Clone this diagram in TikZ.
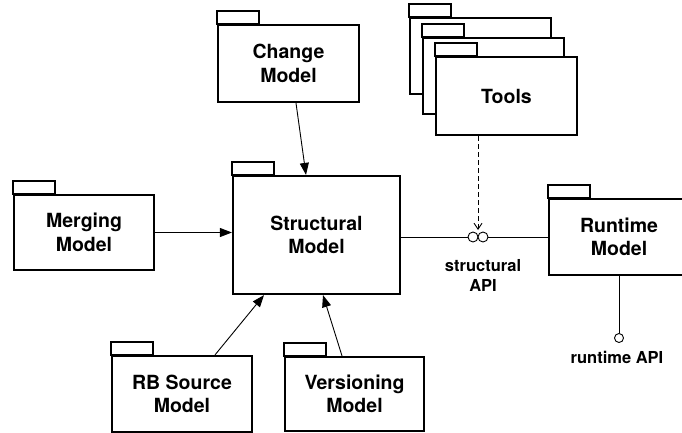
\documentclass[tikz,border=0pt]{standalone}
\usepackage{fontspec}
\setmainfont{TeX Gyre Heros}
\usetikzlibrary{arrows.meta}

\tikzset{
    pkg/.style={draw, line width=2.2pt, fill=white, align=center, inner sep=0pt,
        minimum width=141pt, minimum height=76pt,
        font=\fontsize{19.5}{23.5}\selectfont\bfseries},
    link/.style={line width=0.9pt, -{Triangle[length=12pt,width=9pt]}},
    apilabel/.style={align=center, font=\fontsize{16.5}{20}\selectfont\bfseries},
    socket/.style={draw, circle, line width=0.9pt, fill=white, inner sep=0pt, minimum size=10pt}
}

\newcommand{\pkgtab}[1]{\draw[line width=2.2pt, fill=white] (#1.north west) rectangle ++(42,-13);}

\begin{document}
\begin{tikzpicture}[x=1pt,y=-1pt]
            \useasboundingbox (0,0) rectangle (682,433);

            \node[pkg, minimum height=77pt] (change) at (288.5,63.5) {Change\\Model};
            \pkgtab{change}

            \node[pkg, minimum width=167pt, minimum height=118pt] (structural) at (316.5,235) {Structural\\Model};
            \pkgtab{structural}

            \node[pkg, minimum width=140pt, minimum height=75pt] (merging) at (84,232.5) {Merging\\Model};
            \pkgtab{merging}

            \node[pkg, minimum width=140pt] (rbsource) at (182,394) {RB Source\\Model};
            \pkgtab{rbsource}

            \node[pkg, minimum width=139pt, minimum height=74pt] (versioning) at (354.5,394) {Versioning\\Model};
            \pkgtab{versioning}

            \node[pkg, minimum width=140pt] (runtime) at (619,237) {Runtime\\Model};
            \pkgtab{runtime}

            % stacked tools
            \node[pkg] (toolsc) at (480.5,56) {};
            \pkgtab{toolsc}
            \node[pkg] (toolsb) at (493.5,76) {};
            \pkgtab{toolsb}
            \node[pkg, minimum height=78pt] (tools) at (506.5,96) {Tools};
            \pkgtab{tools}

            \draw[link] ([xshift=7.5pt]change.south) -- ([xshift=-10.5pt]structural.north);
            \draw[link] (merging.east) -- (merging.east -| structural.west);
            \draw[link] ([xshift=33pt]rbsource.north) -- ([xshift=-52.5pt]structural.south);
            \draw[link] ([xshift=-12.5pt]versioning.north) -- ([xshift=6.5pt]structural.south);

            % structural API
            \node[socket] (apil) at (473,237) {};
            \node[socket] (apir) at (483,237) {};
            \coordinate (apitop) at (478,230);
            \draw[line width=0.9pt] (structural.east |- apil) -- (apil.west);
            \draw[line width=0.9pt] (apir.east) -- (runtime.west |- apir);
            \draw[line width=0.9pt, dashed, dash pattern=on 5pt off 3pt, -{Straight Barb[length=6pt,width=8pt]}]
                ([xshift=-28.5pt]tools.south) -- (apitop);
            \node[apilabel] (sapi) at (483,275) {structural\\API};

            % runtime API
            \node[socket, minimum size=9pt] (rtapi) at (619,338) {};
            \draw[line width=0.9pt] (runtime.south) -- (rtapi.north);
            \node[apilabel] (rapi) at (617,357) {runtime API};
        \end{tikzpicture}
\end{document}
